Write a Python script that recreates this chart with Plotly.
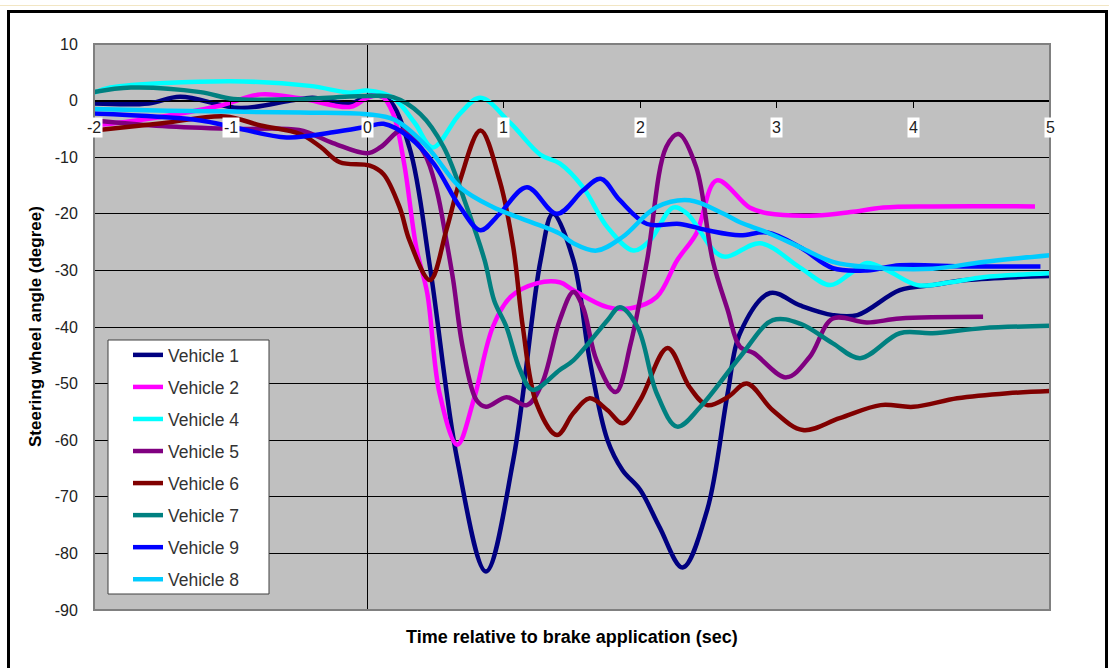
import plotly.graph_objects as go

# Steering wheel angle traces around brake application (time in s, angle in degrees)
v1_t = [-2, -1.6, -1.37, -0.93, -0.56, -0.4, -0.12, 0, 0.15, 0.31, 0.46, 0.66, 0.87, 1.07, 1.27,
        1.36, 1.51, 1.63, 1.76, 1.87, 2.0, 2.14, 2.31, 2.49, 2.64, 2.73, 2.95, 3.17, 3.41, 3.59,
        3.9, 4.14, 4.39, 5.0]
v1_a = [-0.5, -0.5, 0.7, -1.3, 0, 0.5, -0.5, 0.8, 0.3, -8.3, -29.4, -63.5, -83.2, -63.5, -28.2,
        -20, -28.2, -45.9, -60, -65.3, -68.8, -75.3, -82.5, -72.3, -51.7, -41.1, -34, -36.2, -37.9,
        -37.9, -33.5, -32.6, -31.7, -31]

v2_t = [-2, -1.6, -1.08, -0.78, -0.49, -0.12, 0, 0.1, 0.19, 0.27, 0.36, 0.44, 0.53, 0.66, 0.78,
        0.92, 1.05, 1.24, 1.41, 1.51, 1.76, 1.93, 2.12, 2.27, 2.41, 2.56, 2.8, 2.93, 3.29, 3.54,
        3.78, 4.14, 4.89]
v2_a = [-4.4, -3.2, -0.9, 1.1, 0.4, -1.1, 0.5, 0.9, -2.3, -11, -26, -34, -51.7, -60.8, -52.9,
        -40, -34.7, -32.3, -32.1, -33.5, -36.5, -36.7, -34.7, -28.2, -23.5, -14.1, -18.9, -19.9,
        -20.3, -19.7, -18.9, -18.7, -18.7]

v4_t = [-2, -1.88, -1.0, -0.42, -0.12, 0, 0.19, 0.35, 0.48, 0.68, 0.83, 1.05, 1.27, 1.41, 1.58,
        1.76, 1.95, 2.07, 2.24, 2.34, 2.6, 2.88, 3.17, 3.39, 3.54, 3.66, 3.81, 4.03, 4.27, 4.51, 5.0]
v4_a = [1.4, 2.3, 3.4, 2.6, 1.4, 1.8, 0.5, -4, -8.3, -2.3, 0.5, -4, -9.6, -11.1, -15.3,
        -22.4, -26.5, -24.7, -18.9, -19.9, -27.5, -25.2, -29.5, -32.6, -30.5, -28.7, -30, -32.6,
        -32.1, -31.2, -30.5]

v5_t = [-2, -1.5, -1.0, -0.5, -0.25, 0, 0.1, 0.26, 0.42, 0.51, 0.58, 0.63, 0.7, 0.8, 0.87, 1.02,
        1.17, 1.28, 1.41, 1.51, 1.58, 1.68, 1.82, 1.93, 2.05, 2.19, 2.28, 2.41, 2.53, 2.64, 2.73,
        2.83, 3.07, 3.24, 3.41, 3.66, 3.9, 4.51]
v5_a = [-3.5, -4.5, -5, -5.2, -7.5, -9.3, -8.2, -5.2, -9.4, -15.9, -24.7, -31.7, -43.6, -52.9,
        -54.1, -52.4, -53.8, -50, -38.8, -33.8, -36.5, -45.9, -51.5, -42.9, -28.2, -8.2, -5.9,
        -11.8, -28.2, -37, -43.5, -44.6, -48.9, -45.3, -38.5, -39.2, -38.5, -38.2]

v6_t = [-2, -1.5, -1.04, -0.78, -0.49, -0.34, -0.2, 0.02, 0.12, 0.24, 0.31, 0.46, 0.58, 0.68,
        0.83, 0.97, 1.07, 1.14, 1.24, 1.39, 1.51, 1.63, 1.76, 1.87, 2.0, 2.2, 2.36, 2.49, 2.64,
        2.78, 2.97, 3.19, 3.46, 3.76, 4.0, 4.32, 4.69, 5.0]
v6_a = [-5.3, -4, -2.8, -4.4, -5.9, -8.2, -10.9, -11.5, -13, -19, -24.7, -31.7, -22.9, -14.1,
        -5.3, -14.1, -25.9, -40, -53.5, -59.1, -55.2, -52.6, -54.7, -57, -52.9, -43.7, -50.6,
        -53.8, -52.4, -50, -54.7, -58.2, -56.1, -53.8, -54.1, -52.6, -51.7, -51.3]

v7_t = [-2, -1.73, -1.22, -0.98, -0.49, 0, 0.19, 0.39, 0.56, 0.73, 0.86, 0.93, 1.02, 1.12, 1.21,
        1.41, 1.51, 1.76, 1.85, 1.98, 2.12, 2.27, 2.44, 2.73, 2.97, 3.17, 3.41, 3.61, 3.9, 4.14,
        4.51, 5.0]
v7_a = [1.5, 2.3, 1.5, 0.3, 0.3, 0.8, 0.6, -2.4, -8.2, -18.8, -28.2, -35.3, -40, -47.6, -51.1,
        -47.6, -45.9, -38.8, -36.5, -40, -51.7, -57.6, -54.1, -45.3, -38.8, -39.4, -42.9, -45.5,
        -41.1, -41.1, -40.2, -39.8]

v9_t = [-2, -1.22, -0.98, -0.59, -0.25, 0, 0.12, 0.31, 0.49, 0.68, 0.83, 0.97, 1.17, 1.39, 1.58,
        1.71, 1.85, 2.05, 2.29, 2.49, 2.73, 2.93, 3.17, 3.41, 3.66, 3.9, 4.39, 4.93]
v9_a = [-2.3, -3.5, -4.7, -6.5, -5.6, -4.6, -4.1, -6.5, -11.2, -18.8, -22.9, -20, -15.3, -20,
        -15.9, -13.8, -17.6, -21.8, -21.8, -22.9, -23.8, -23.3, -25.9, -29.6, -30, -29.1, -29.3,
        -29.3]

v8_t = [-2, -1.46, -0.49, 0, 0.2, 0.44, 0.68, 0.92, 1.17, 1.41, 1.51, 1.68, 1.87, 2.12, 2.36,
        2.61, 2.73, 2.93, 3.17, 3.41, 3.66, 4.14, 4.51, 5.0]
v8_a = [-1.5, -1.8, -2.1, -2.4, -3.4, -8.2, -15.3, -18.8, -21.2, -23.5, -25.2, -26.5, -24.1,
        -18.8, -17.6, -20, -21.5, -23.3, -25.9, -28.5, -29.4, -29.7, -28.5, -27.3]

series_names = ["Vehicle 1", "Vehicle 2", "Vehicle 4", "Vehicle 5",
                "Vehicle 6", "Vehicle 7", "Vehicle 9", "Vehicle 8"]
series_t = [v1_t, v2_t, v4_t, v5_t, v6_t, v7_t, v9_t, v8_t]
series_a = [v1_a, v2_a, v4_a, v5_a, v6_a, v7_a, v9_a, v8_a]
series_colors = ["#000080", "#FF00FF", "#00FFFF", "#800080",
                 "#800000", "#008080", "#0000FF", "#00CCFF"]

x_ticks = [-2, -1, 0, 1, 2, 3, 4, 5]
x_tick_text = ["-2", "-1", "0", "1", "2", "3", "4", "5"]
y_ticks = [10, 0, -10, -20, -30, -40, -50, -60, -70, -80, -90]
y_tick_text = ["10", "0", "-10", "-20", "-30", "-40", "-50", "-60", "-70", "-80", "-90"]

FONT = "Arial, Liberation Sans, sans-serif"
W, H = 1109, 668
ML, MR, MT, MB = 94, 59, 44, 58
PW, PH = W - ML - MR, H - MT - MB


def px_x(p):
    return (p - ML) / PW


def px_y(p):
    return (H - MB - p) / PH


fig = go.Figure()
for name, t, a, c in zip(series_names, series_t, series_a, series_colors):
    fig.add_trace(go.Scatter(
        x=t, y=a, name=name, mode="lines", legendgroup=name,
        line=dict(color=c, width=4.5, shape="spline", smoothing=1.0),
    ))

shapes = [
    # plot-area frame
    dict(type="rect", xref="paper", yref="paper", x0=0, x1=1, y0=0, y1=1,
         line=dict(color="#808080", width=2), layer="above"),
    # legend box
    dict(type="rect", xref="paper", yref="paper",
         x0=px_x(108), x1=px_x(269), y0=px_y(594), y1=px_y(340),
         fillcolor="white", line=dict(color="#404040", width=1), layer="above"),
    # chart outer frame
    dict(type="rect", xref="paper", yref="paper",
         x0=px_x(8.5), x1=px_x(1106.5), y0=px_y(680), y1=px_y(11.5),
         line=dict(color="black", width=3), layer="above"),
    dict(type="line", xref="paper", yref="paper",
         x0=px_x(0), x1=px_x(1109), y0=px_y(5.5), y1=px_y(5.5),
         line=dict(color="#F2E6C4", width=1), layer="above"),
]

annotations = []
for v, txt in zip(x_ticks, x_tick_text):
    annotations.append(dict(
        x=v, y=0, xref="x", yref="y", text=txt, showarrow=False,
        yanchor="middle", xanchor="center", yshift=-27,
        bgcolor="white", borderpad=1,
        font=dict(family=FONT, size=16, color="#222222"),
    ))
annotations.append(dict(
    x=px_x(572), y=px_y(637), xref="paper", yref="paper",
    text="<b>Time relative to brake application (sec)</b>", showarrow=False,
    xanchor="center", yanchor="middle",
    font=dict(family=FONT, size=18, color="black"),
))
annotations.append(dict(
    x=px_x(35), y=px_y(327), xref="paper", yref="paper",
    text="<b>Steering wheel angle (degree)</b>", showarrow=False, textangle=-90,
    xanchor="center", yanchor="middle",
    font=dict(family=FONT, size=17, color="black"),
))

fig.update_layout(
    width=W, height=H,
    margin=dict(l=ML, r=MR, t=MT, b=MB, pad=0),
    paper_bgcolor="white", plot_bgcolor="#C0C0C0",
    font=dict(family=FONT, color="#222222"),
    xaxis=dict(
        range=[-2, 5], anchor="free", position=0.9,
        showline=True, linecolor="black", linewidth=1,
        ticks="outside", ticklen=6, tickwidth=1, tickcolor="black",
        tickvals=x_ticks, showticklabels=False, showgrid=False,
        zeroline=True, zerolinecolor="black", zerolinewidth=1,
    ),
    yaxis=dict(
        range=[-90, 10], tickvals=y_ticks, ticktext=y_tick_text,
        showgrid=True, gridcolor="black", gridwidth=1,
        zeroline=False, showline=False,
        ticks="outside", ticklen=12, tickcolor="rgba(0,0,0,0)",
        tickfont=dict(family=FONT, size=16, color="#222222"),
    ),
    showlegend=True,
    legend=dict(
        x=px_x(128), y=px_y(337), xanchor="left", yanchor="top",
        bgcolor="rgba(0,0,0,0)", borderwidth=0,
        font=dict(family=FONT, size=17.5, color="#333333"),
        tracegroupgap=6.3, itemwidth=30,
    ),
    shapes=shapes,
    annotations=annotations,
)

fig.write_html("out.html")
